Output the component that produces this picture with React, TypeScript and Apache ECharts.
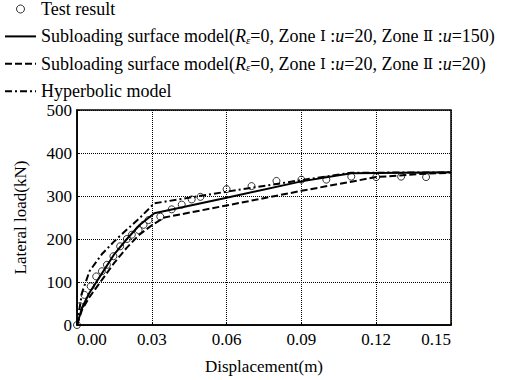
import React, { useEffect, useRef } from "react";
import * as echarts from "echarts";

const xTicks = [0, 0.03, 0.06, 0.09, 0.12, 0.15];
const yTicks = [0, 100, 200, 300, 400, 500];

const testX = [0, 0.0012, 0.003, 0.0055, 0.0077, 0.01, 0.012, 0.0146, 0.0173, 0.02, 0.022, 0.0247, 0.0267, 0.0287, 0.0334, 0.038, 0.042, 0.046, 0.0495, 0.06, 0.07, 0.08, 0.09, 0.1, 0.11, 0.12, 0.13, 0.14];
const testY = [0, 44, 70, 90, 113, 125, 140, 160, 183, 200, 210, 221, 233, 244, 252, 269, 280, 292, 298, 316, 323, 335, 338, 338, 345, 344, 345, 344];

const solidX = [0, 0.002, 0.005, 0.01, 0.015, 0.02, 0.025, 0.031, 0.06, 0.09, 0.11, 0.15];
const solidY = [0, 40, 75, 120, 165, 200, 232, 260, 296, 334, 353, 355];

const dashedX = [0, 0.002, 0.005, 0.01, 0.015, 0.02, 0.025, 0.03, 0.035, 0.06, 0.09, 0.12, 0.14, 0.15];
const dashedY = [0, 35, 65, 105, 145, 180, 210, 232, 250, 278, 312, 344, 352, 354];

const hypX = [0, 0.002, 0.005, 0.01, 0.015, 0.02, 0.025, 0.031, 0.06, 0.09, 0.11, 0.15];
const hypY = [0, 75, 125, 165, 195, 222, 248, 283, 310, 337, 354, 355];

const names = [
  "Test result",
  "Subloading surface model(Rε=0, Zone Ⅰ:u=20, Zone Ⅱ:u=150)",
  "Subloading surface model(Rε=0, Zone Ⅰ:u=20, Zone Ⅱ:u=20)",
  "Hyperbolic model",
];

const richNames: Record<string, string> = {
  [names[0]]: "{n|Test result}",
  [names[1]]: "{n|Subloading surface model(}{i|R}{s|ε}{n|=0, Zone }{r|Ⅰ}{n| :}{i|u}{n|=20, Zone }{r|Ⅱ}{n| :}{i|u}{n|=150)}",
  [names[2]]: "{n|Subloading surface model(}{i|R}{s|ε}{n|=0, Zone }{r|Ⅰ}{n| :}{i|u}{n|=20, Zone }{r|Ⅱ}{n| :}{i|u}{n|=20)}",
  [names[3]]: "{n|Hyperbolic model}",
};

const zip = (xs: number[], ys: number[]) => xs.map((x, i) => [x, ys[i]]);

const FONT = "Liberation Serif";

export default function App() {
  const ref = useRef<HTMLDivElement>(null);
  useEffect(() => {
    if (!ref.current) return;
    const chart = echarts.init(ref.current, undefined, { renderer: "svg" });
    const axisCommon = {
      type: "value" as const,
      axisLine: { show: true, lineStyle: { color: "#000", width: 1.5 } },
      axisTick: { show: true, inside: true, length: 3, lineStyle: { color: "#000" } },
      splitLine: { show: true, lineStyle: { color: "#000", type: "dotted" as const, width: 1 } },
      nameLocation: "middle" as const,
      nameTextStyle: { fontFamily: FONT, fontSize: 17, color: "#000" },
    };
    const hideSym = { opacity: 0 };
    chart.setOption({
      animation: false,
      backgroundColor: "#fff",
      textStyle: { fontFamily: FONT },
      grid: { left: 77, right: 66, top: 110, bottom: 54, show: true, borderColor: "#000", borderWidth: 1.5, containLabel: false },
      legend: {
        orient: "vertical",
        left: 4,
        top: 0,
        padding: 0,
        itemWidth: 31,
        itemHeight: 8,
        itemGap: 9.4,
        selectedMode: false,
        data: [
          { name: names[0], itemStyle: { borderWidth: 1 } },
          { name: names[1], itemStyle: hideSym },
          { name: names[2], itemStyle: hideSym },
          { name: names[3], itemStyle: hideSym },
        ],
        formatter: (name: string) => richNames[name] || name,
        textStyle: {
          fontFamily: FONT,
          fontSize: 18,
          color: "#000",
          lineHeight: 18,
          rich: {
            n: { fontFamily: FONT, fontSize: 18, color: "#000", lineHeight: 18 },
            i: { fontFamily: FONT, fontSize: 18, color: "#000", fontStyle: "italic", lineHeight: 18 },
            r: { fontFamily: "DejaVu Serif", fontSize: 15, color: "#000", lineHeight: 18 },
            s: { fontFamily: FONT, fontSize: 11, color: "#000", fontStyle: "italic", lineHeight: 10, verticalAlign: "bottom" },
          },
        },
      },
      xAxis: {
        ...axisCommon,
        min: xTicks[0],
        max: xTicks[xTicks.length - 1],
        interval: 0.03,
        name: "Displacement(m)",
        nameGap: 33,
        axisLabel: {
          fontFamily: FONT,
          fontSize: 17,
          color: "#000",
          margin: 6,
          formatter: (v: number) => v.toFixed(2),
          alignMinLabel: "left",
          alignMaxLabel: "right",
        },
      },
      yAxis: {
        ...axisCommon,
        min: yTicks[0],
        max: yTicks[yTicks.length - 1],
        interval: 100,
        name: "Lateral load(kN)",
        nameGap: 48,
        nameRotate: 90,
        axisLabel: { fontFamily: FONT, fontSize: 17, color: "#000", margin: 5, lineHeight: 12 },
      },
      series: [
        {
          name: names[1],
          type: "line",
          data: zip(solidX, solidY),
          symbol: "none",
          lineStyle: { color: "#000", width: 2, type: "solid" },
          itemStyle: { color: "#000" },
          z: 3,
        },
        {
          name: names[2],
          type: "line",
          data: zip(dashedX, dashedY),
          symbol: "none",
          lineStyle: { color: "#000", width: 2, type: [7, 3] },
          itemStyle: { color: "#000" },
          z: 3,
        },
        {
          name: names[3],
          type: "line",
          data: zip(hypX, hypY),
          symbol: "none",
          lineStyle: { color: "#000", width: 2, type: [7, 3, 2, 3] },
          itemStyle: { color: "#000" },
          z: 3,
        },
        {
          name: names[0],
          type: "scatter",
          data: zip(testX, testY),
          symbol: "circle",
          symbolSize: 7,
          itemStyle: { color: "rgba(255,255,255,0)", borderColor: "#000", borderWidth: 1 },
          z: 4,
        },
      ],
    });
    return () => chart.dispose();
  }, []);
  return <div ref={ref} style={{ width: 517, height: 380, position: "absolute", left: 0, top: 0 }} />;
}
